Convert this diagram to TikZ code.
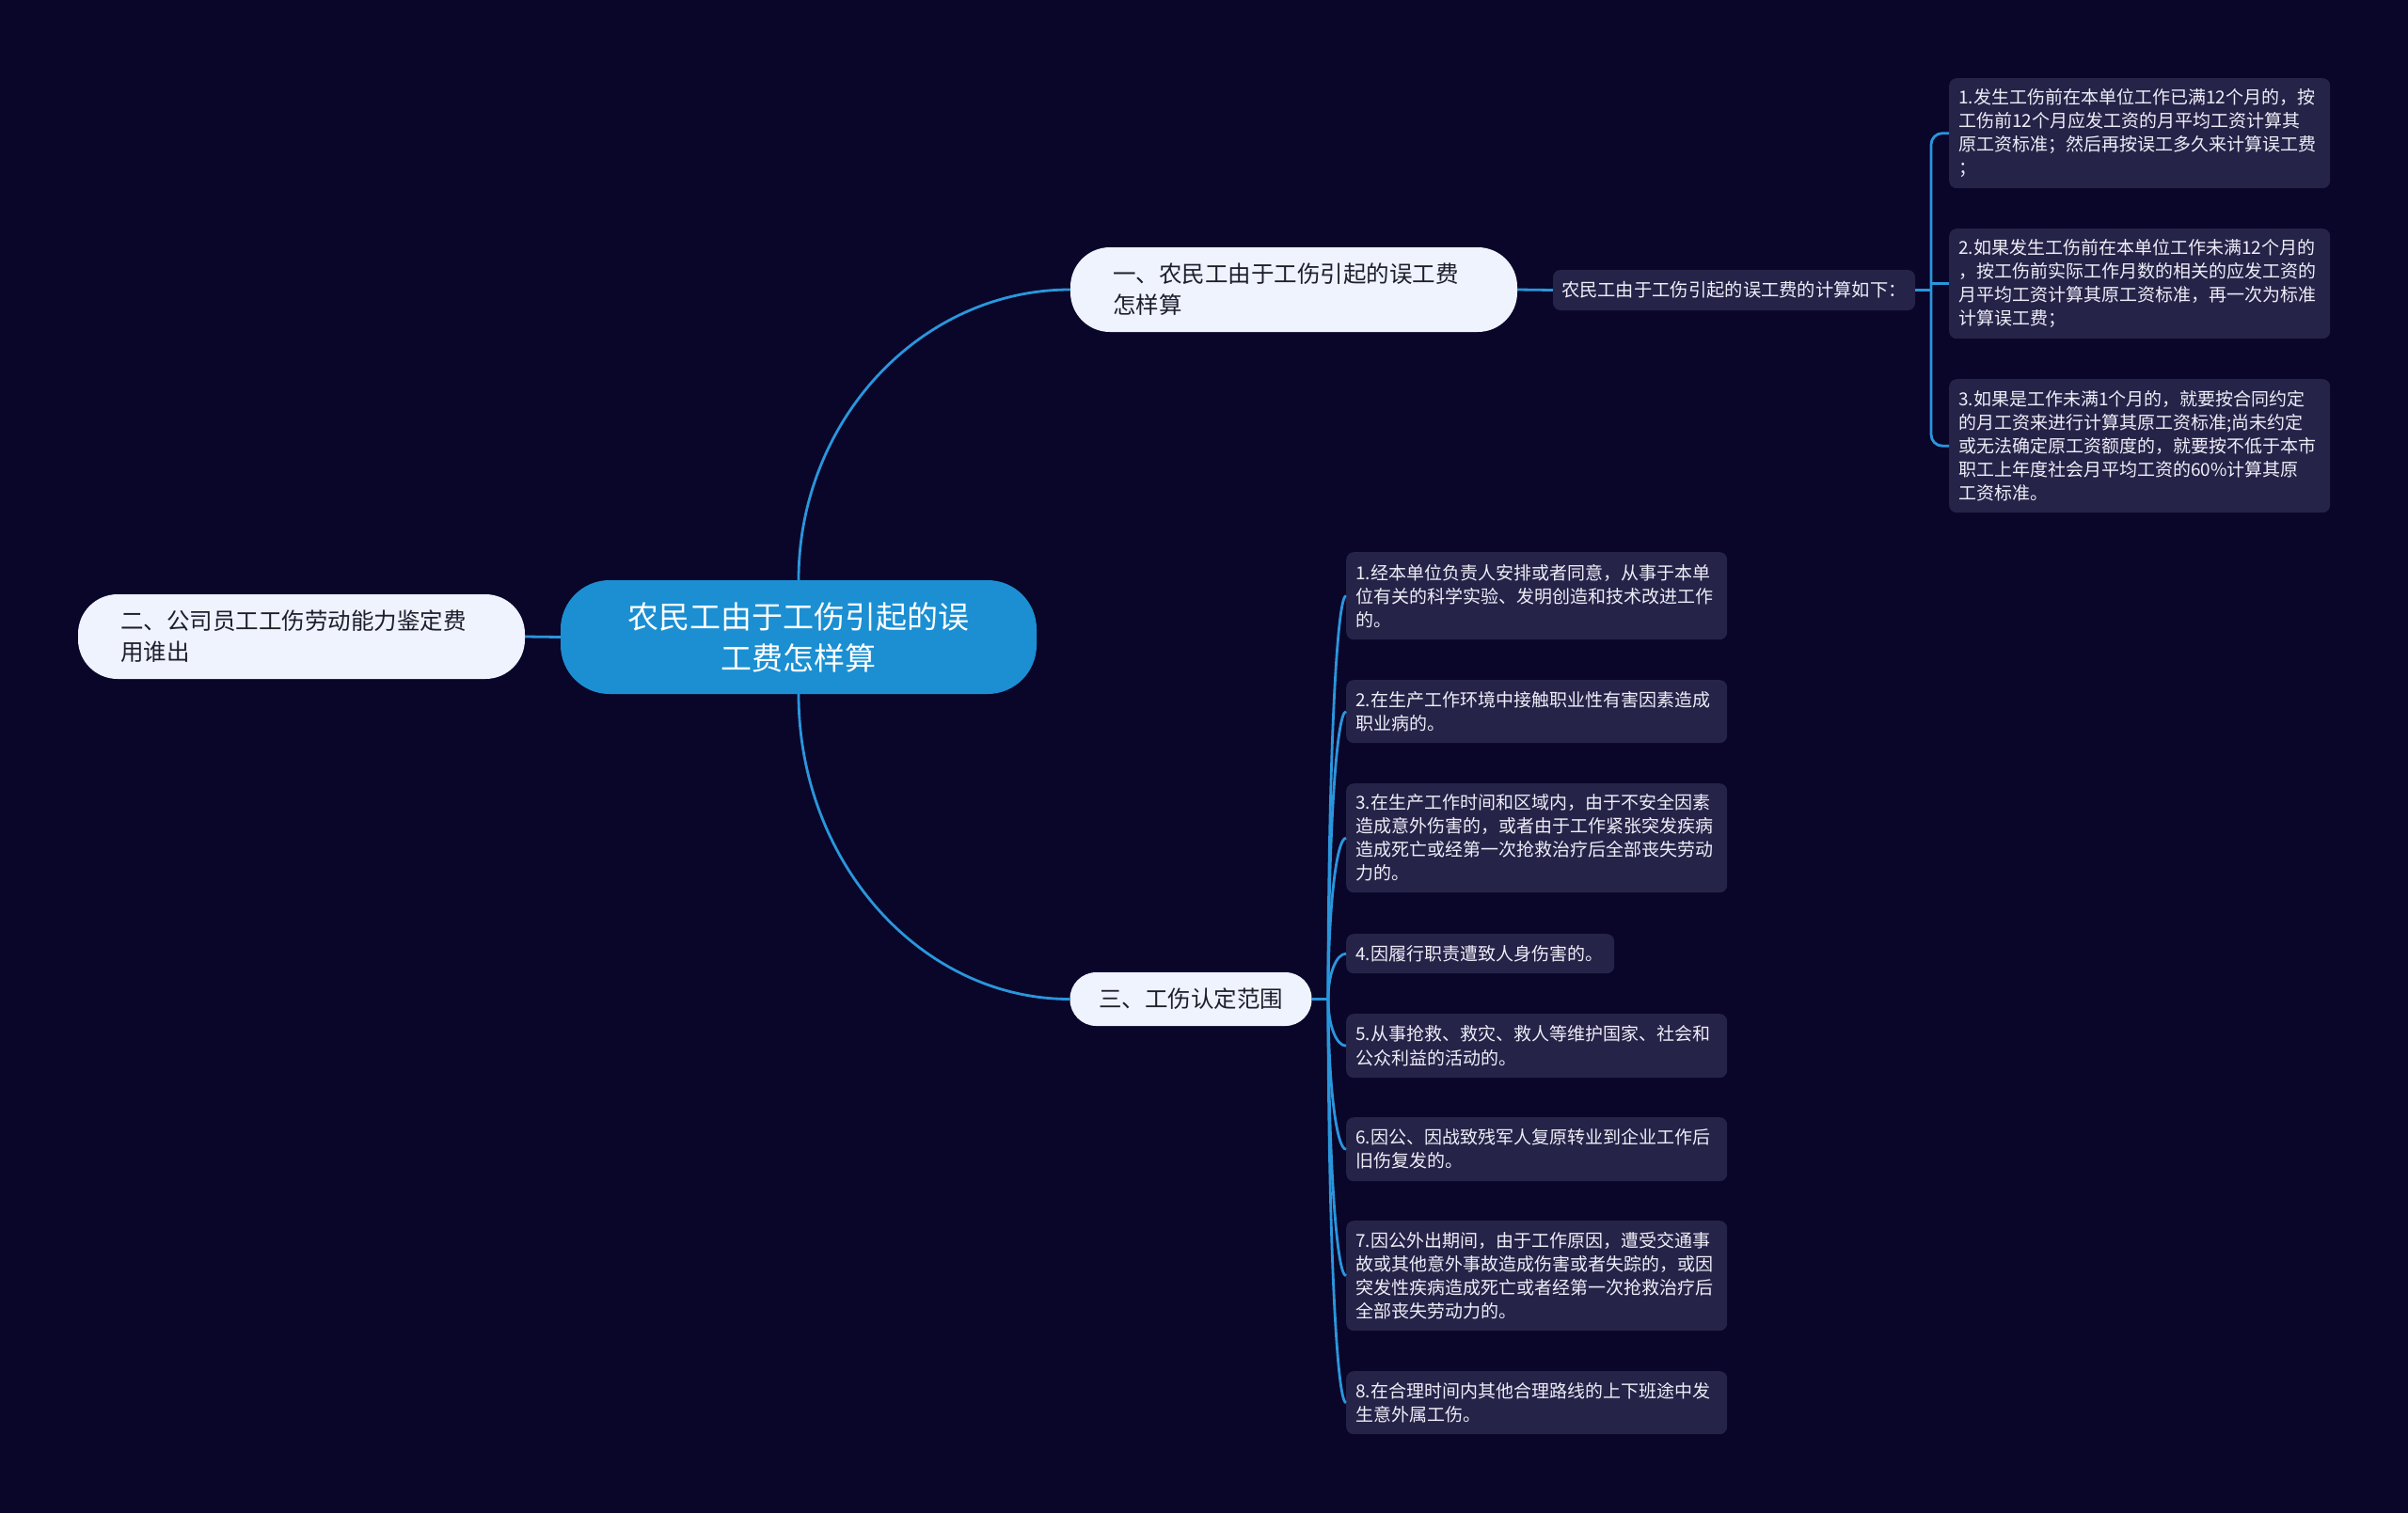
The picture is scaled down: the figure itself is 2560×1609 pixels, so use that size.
\documentclass[tikz,border=0pt]{standalone}
\usepackage{fontspec}
\setmainfont{Noto Sans CJK SC}
\usetikzlibrary{calc}
\definecolor{bgc}{RGB}{10,6,42}
\definecolor{rootc}{RGB}{27,143,210}
\definecolor{linec}{RGB}{42,150,220}
\definecolor{branchc}{RGB}{238,243,253}
\definecolor{branchtext}{RGB}{30,30,45}
\definecolor{leafc}{RGB}{38,35,72}
\definecolor{leaftext}{RGB}{238,238,248}
\newcommand\mmcurve[2]{\draw[conn] (#1) .. controls ($(#1)!0.55!(#1 |- #2.west)$) and ($(#2.west)!0.55!(#1 |- #2.west)$) .. (#2.west);}
\begin{document}
\begin{tikzpicture}[x=1pt,y=-1pt,
  conn/.style={draw=linec, line width=2.8pt},
  rootbox/.style={fill=rootc, text=white, rounded corners=52pt, minimum width=506pt, minimum height=121pt, align=center, inner sep=0pt, font=\fontsize{33}{44}\selectfont},
  mainbox/.style={fill=branchc, text=branchtext, rounded corners=42pt, minimum height=90pt, text width=385pt, inner xsep=45pt, inner ysep=0pt, align=left, font=\fontsize{24.5}{33}\selectfont},
  leafbox/.style={fill=leafc, text=leaftext, rounded corners=8pt, inner xsep=10pt, inner ysep=6pt, align=left, text width=385pt, font=\fontsize{19}{25}\selectfont}
]
\fill[bgc] (0,0) rectangle (2560,1609);
\useasboundingbox (0,0) rectangle (2560,1609);

% root and main branches
\node[rootbox] (root) at (849,677.5) {农民工由于工伤引起的误\\工费怎样算};
\node[mainbox] (b1) at (1375.5,308) {一、农民工由于工伤引起的误工费\\怎样算};
\node[mainbox] (b2) at (320.5,677) {二、公司员工工伤劳动能力鉴定费\\用谁出};
\node[mainbox, text width=197pt, inner xsep=30pt, minimum height=57pt, rounded corners=28pt, align=center] (b3) at (1266,1062.5) {三、工伤认定范围};

% branch 1 children
\node[leafbox, text width=367pt, inner xsep=9pt, minimum height=43pt, font=\fontsize{19.3}{25}\selectfont] (l1) at (1843.5,308.5) {农民工由于工伤引起的误工费的计算如下：};
\node[leafbox, anchor=north west, minimum height=117pt] (r1) at (2072,83) {1.发生工伤前在本单位工作已满12个月的，按\\工伤前12个月应发工资的月平均工资计算其\\原工资标准；然后再按误工多久来计算误工费\\；};
\node[leafbox, anchor=north west, minimum height=117pt] (r2) at (2072,243) {2.如果发生工伤前在本单位工作未满12个月的\\，按工伤前实际工作月数的相关的应发工资的\\月平均工资计算其原工资标准，再一次为标准\\计算误工费；};
\node[leafbox, anchor=north west, minimum height=142pt] (r3) at (2072,403) {3.如果是工作未满1个月的，就要按合同约定\\的月工资来进行计算其原工资标准;尚未约定\\或无法确定原工资额度的，就要按不低于本市\\职工上年度社会月平均工资的60\%计算其原\\工资标准。};

% branch 3 children
\node[leafbox, anchor=north west, minimum height=93pt] (m1) at (1431,587) {1.经本单位负责人安排或者同意，从事于本单\\位有关的科学实验、发明创造和技术改进工作\\的。};
\node[leafbox, anchor=north west, minimum height=67pt] (m2) at (1431,723) {2.在生产工作环境中接触职业性有害因素造成\\职业病的。};
\node[leafbox, anchor=north west, minimum height=116pt] (m3) at (1431,833) {3.在生产工作时间和区域内，由于不安全因素\\造成意外伤害的，或者由于工作紧张突发疾病\\造成死亡或经第一次抢救治疗后全部丧失劳动\\力的。};
\node[leafbox, anchor=north west, minimum height=42pt, text width=265pt] (m4) at (1431,993) {4.因履行职责遭致人身伤害的。};
\node[leafbox, anchor=north west, minimum height=68pt] (m5) at (1431,1078) {5.从事抢救、救灾、救人等维护国家、社会和\\公众利益的活动的。};
\node[leafbox, anchor=north west, minimum height=68pt] (m6) at (1431,1188) {6.因公、因战致残军人复原转业到企业工作后\\旧伤复发的。};
\node[leafbox, anchor=north west, minimum height=117pt] (m7) at (1431,1298) {7.因公外出期间，由于工作原因，遭受交通事\\故或其他意外事故造成伤害或者失踪的，或因\\突发性疾病造成死亡或者经第一次抢救治疗后\\全部丧失劳动力的。};
\node[leafbox, anchor=north west, minimum height=67pt] (m8) at (1431,1458) {8.在合理时间内其他合理路线的上下班途中发\\生意外属工伤。};

% connectors
\mmcurve{root.north}{b1}
\mmcurve{root.south}{b3}
\draw[conn] (root.west) -- (b2.east);
\draw[conn] (b1.east) -- (l1.west);

\coordinate (j1) at (2053,308.5);
\draw[conn] (l1.east) -- (j1);
\draw[conn, rounded corners=12pt] (j1) |- (r1.west);
\draw[conn] (j1) |- (r2.west);
\draw[conn, rounded corners=12pt] (j1) |- (r3.west);

\coordinate (j3) at (1412,1062.5);
\draw[conn] (b3.east) -- (j3);
\foreach \m in {m1,m2,m3,m4,m5,m6,m7,m8} {\mmcurve{j3}{\m}}
\end{tikzpicture}
\end{document}
